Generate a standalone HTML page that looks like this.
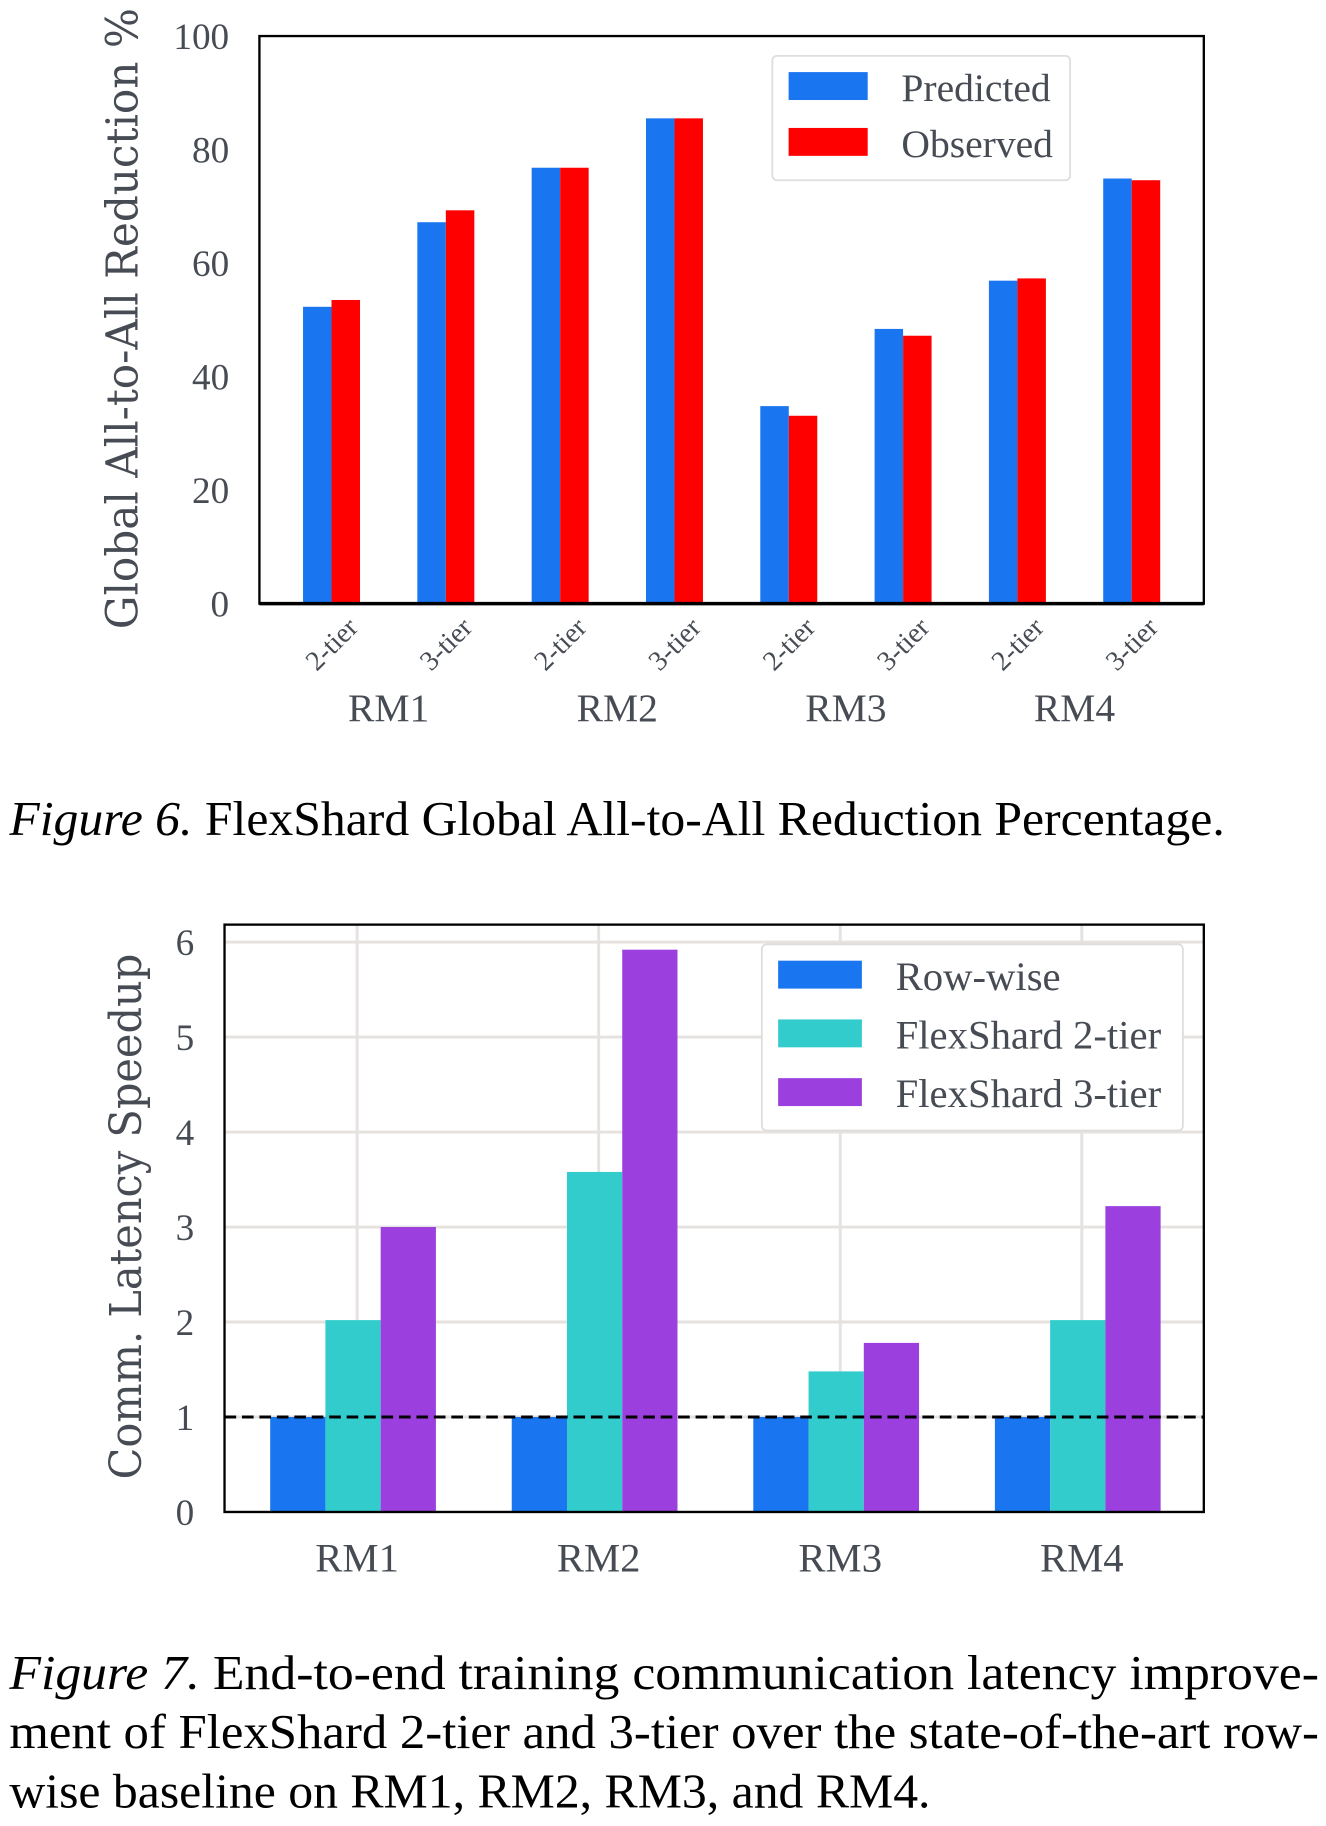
<!DOCTYPE html>
<html><head><meta charset="utf-8"><style>
html,body{margin:0;padding:0;background:#fff;}
svg{display:block;}
</style></head><body>
<svg id="fig" width="1326" height="1826" viewBox="0 0 1140 1570" xmlns="http://www.w3.org/2000/svg" font-family="'Liberation Serif', serif">
<g id="c1"></g>
<g id="c2"></g>
<text x="8" y="718" font-size="42" fill="#000" textLength="1045" lengthAdjust="spacingAndGlyphs"><tspan font-style="italic">Figure 6.</tspan> FlexShard Global All-to-All Reduction Percentage.</text>
<g font-size="42" fill="#000">
<text x="8" y="1452" textLength="1126" lengthAdjust="spacingAndGlyphs"><tspan font-style="italic">Figure 7.</tspan> End-to-end  training  communication  latency  improve-</text>
<text x="8" y="1503" textLength="1126" lengthAdjust="spacingAndGlyphs">ment of FlexShard 2-tier and 3-tier over the state-of-the-art row-</text>
<text x="8" y="1554" textLength="792" lengthAdjust="spacingAndGlyphs">wise baseline on RM1, RM2, RM3, and RM4.</text>
</g>
</svg>
<script>
const NS='http://www.w3.org/2000/svg';
// Chart 1 data
const groups1=['RM1','RM2','RM3','RM4'];
const tiers1=['2-tier','3-tier','2-tier','3-tier','2-tier','3-tier','2-tier','3-tier'];
const predicted=[52.3,67.2,76.8,85.5,34.8,48.4,56.9,74.9];
const observed=[53.5,69.3,76.8,85.5,33.1,47.2,57.3,74.6];
const yTicks1=[0,20,40,60,80,100];
// Chart 2 data
const groups2=['RM1','RM2','RM3','RM4'];
const rowwise=[1,1,1,1];
const tier2=[2.02,3.58,1.48,2.02];
const tier3=[3.0,5.92,1.78,3.22];
const yTicks2=[0,1,2,3,4,5,6];
const GRAY='#474c54';

function mk(parent,tag,attrs,text){const e=document.createElementNS(NS,tag);for(const k in attrs)e.setAttribute(k,attrs[k]);if(text!==undefined)e.textContent=text;parent.appendChild(e);return e;}

// ---- Chart 1 ----
(function(){
const g=document.getElementById('c1');
const L=223,R=1035,T=31,B=519;
const y=v=>B-(v/100)*(B-T);
const off=62;
const x=i=>L+off+i*((R-L-2*off)/7);
const bw=24.5;
for(const t of yTicks1){
 const e=mk(g,'text',{x:197,y:y(t)+11,'text-anchor':'end','font-size':32,fill:GRAY},String(t));
 
 
}
predicted.forEach((v,i)=>{
 const r=mk(g,'rect',{x:x(i)-bw,y:y(v),width:bw,height:B-y(v),fill:'#1a76f0'});
 
 
});
observed.forEach((v,i)=>{
 const r=mk(g,'rect',{x:x(i),y:y(v),width:bw,height:B-y(v),fill:'#ff0000'});
 
 
});
const ax=mk(g,'rect',{x:L,y:T,width:R-L,height:B-T,fill:'none',stroke:'#000','stroke-width':2});


const base=mk(g,'line',{x1:L,x2:R,y1:B,y2:B,stroke:'#000','stroke-width':3});


tiers1.forEach((t,i)=>{
 const cx=x(i)+24, cy=B+22;
 const e=mk(g,'text',{x:cx,y:cy,'text-anchor':'end','font-size':24,fill:GRAY,transform:`rotate(-45 ${cx} ${cy})`},t);
 
 
});
groups1.forEach((gname,j)=>{
 const cx=(x(2*j)+x(2*j+1))/2;
 const e=mk(g,'text',{x:cx,y:620,'text-anchor':'middle','font-size':34,fill:GRAY},gname);
 
 
});
const yt=mk(g,'text',{x:0,y:0,'text-anchor':'middle','font-size':38,fill:GRAY,'font-family':"'DejaVu Serif', serif",textLength:534,lengthAdjust:'spacingAndGlyphs',transform:'translate(118 274) rotate(-90)'},'Global All-to-All Reduction %');


const lg=mk(g,'g',{});


mk(lg,'rect',{x:664,y:48,width:256,height:107,rx:4,fill:'#fff',stroke:'#ddd','stroke-width':1.5});
mk(lg,'rect',{x:678,y:62,width:68,height:24,fill:'#1a76f0'});
mk(lg,'rect',{x:678,y:110,width:68,height:24,fill:'#ff0000'});
mk(lg,'text',{x:775,y:87,'font-size':34,fill:GRAY},'Predicted');
mk(lg,'text',{x:775,y:135,'font-size':34,fill:GRAY},'Observed');
})();

// ---- Chart 2 ----
(function(){
const g=document.getElementById('c2');
const L=193,R=1035,T=795,B=1300;
const y=v=>B-(v/6)*(B-810);
const x=i=>307+i*207.7;
const bw=47.5;
for(const t of yTicks2){
 mk(g,'line',{x1:L,x2:R,y1:y(t),y2:y(t),stroke:'#e5e2df','stroke-width':2.5});
 const e=mk(g,'text',{x:167,y:y(t)+11,'text-anchor':'end','font-size':32,fill:GRAY},String(t));
 
 
}
groups2.forEach((n,i)=>{
 mk(g,'line',{x1:x(i),x2:x(i),y1:T,y2:B,stroke:'#e5e2df','stroke-width':2.5});
 const e=mk(g,'text',{x:x(i),y:1351,'text-anchor':'middle','font-size':35,fill:GRAY},n);
 
 
});
const series=[[rowwise,'#1a76f0','bar-row-wise'],[tier2,'#33cccc','bar-2-tier'],[tier3,'#9b40de','bar-3-tier']];
series.forEach(([vals,col,nm],s)=>{
 vals.forEach((v,i)=>{
  const r=mk(g,'rect',{x:x(i)-3.5+(s-1.5)*bw,y:y(v),width:bw,height:B-y(v),fill:col});
  
  
 });
});
const dl=mk(g,'line',{x1:L,x2:R,y1:y(1),y2:y(1),stroke:'#000','stroke-width':2.6,'stroke-dasharray':'10 5'});


const ax=mk(g,'rect',{x:L,y:T,width:R-L,height:B-T,fill:'none',stroke:'#000','stroke-width':2});


const yt=mk(g,'text',{x:0,y:0,'text-anchor':'middle','font-size':38,fill:GRAY,'font-family':"'DejaVu Serif', serif",textLength:452,lengthAdjust:'spacingAndGlyphs',transform:'translate(121 1046) rotate(-90)'},'Comm. Latency Speedup');


const lg=mk(g,'g',{});


mk(lg,'rect',{x:655,y:812,width:362,height:160,rx:4,fill:'#fff',stroke:'#ddd','stroke-width':1.5});
const names=['Row-wise','FlexShard 2-tier','FlexShard 3-tier'];
const cols=['#1a76f0','#33cccc','#9b40de'];
names.forEach((n,k)=>{
 mk(lg,'rect',{x:669,y:826+k*50.5,width:72,height:24,fill:cols[k]});
 mk(lg,'text',{x:770,y:851+k*50.5,'font-size':35,fill:GRAY},n);
});
})();
</script>
</body></html>
